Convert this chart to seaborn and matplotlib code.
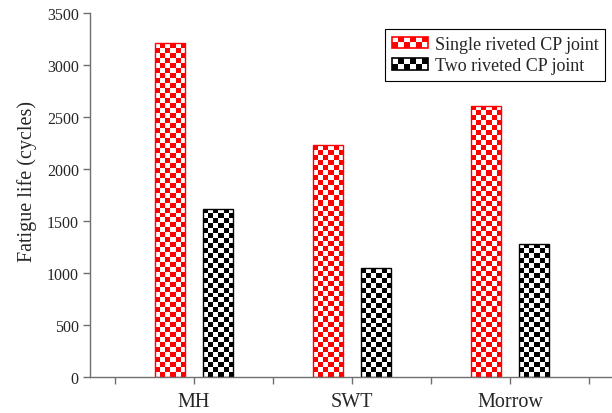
import numpy as np
import pandas as pd
import seaborn as sns
import matplotlib.pyplot as plt
from matplotlib.colors import ListedColormap
from matplotlib.patches import Rectangle
from matplotlib.legend_handler import HandlerBase

# Fatigue life predicted by each criterion
criteria = ["MH", "SWT", "Morrow"]
single_riveted = [3210, 2230, 2610]
two_riveted = [1620, 1045, 1280]
series_names = ["Single riveted CP joint", "Two riveted CP joint"]
series_colors = ["#ff0000", "#000000"]

df = pd.DataFrame({
    "criterion": criteria * 2,
    "life": single_riveted + two_riveted,
    "joint": [series_names[0]] * 3 + [series_names[1]] * 3,
})

sns.set_style("white")
plt.rcParams["font.family"] = ["Liberation Serif", "DejaVu Serif"]

fig = plt.figure(figsize=(6.12, 4.14), dpi=100)
ax = fig.add_axes([0.147, 0.087, 0.853, 0.879])

sns.barplot(data=df, x="criterion", y="life", hue="joint", order=criteria,
            hue_order=series_names, palette=series_colors, width=0.608,
            gap=0.375, ax=ax, legend=False, errorbar=None)

ax.set_xlim(-0.658, 2.646)
ax.set_ylim(0, 3500)


def checker_fill(ax, patch, color):
    """Cover a bar with a checkerboard of the given colour and white."""
    x0, y0 = patch.get_x(), patch.get_y()
    w, h = patch.get_width(), patch.get_height()
    ncol = 6
    # square cells in screen space
    px_w = ax.transData.transform((x0 + w, 0))[0] - ax.transData.transform((x0, 0))[0]
    cell_px = px_w / ncol
    px_h = ax.transData.transform((0, y0 + h))[1] - ax.transData.transform((0, y0))[1]
    nrow = max(1, int(round(px_h / cell_px)))
    grid = np.indices((nrow, ncol)).sum(axis=0) % 2
    im = ax.imshow(grid, cmap=ListedColormap(["white", color]), vmin=0, vmax=1,
                   extent=(x0, x0 + w, y0, y0 + h), origin="lower",
                   interpolation="nearest", aspect="auto", zorder=patch.get_zorder())
    im.set_clip_path(patch)
    patch.set_facecolor("none")
    patch.set_edgecolor(color)
    patch.set_linewidth(1.0)
    patch.set_zorder(patch.get_zorder() + 0.1)


fig.canvas.draw()
bars = [p for p in ax.patches if p.get_height() > 0]
for i, p in enumerate(bars):
    checker_fill(ax, p, series_colors[i // 3])
ax.set_xlim(-0.658, 2.646)
ax.set_ylim(0, 3500)

# axes styling
for side in ["top", "right"]:
    ax.spines[side].set_visible(False)
for side in ["left", "bottom"]:
    ax.spines[side].set_color("#707070")
    ax.spines[side].set_linewidth(1.0)

ax.set_yticks(np.arange(0, 3501, 500))
ax.set_xticks([0, 1, 2])
ax.set_xticklabels(criteria, fontsize=14.5)
ax.set_xticks([-0.5, 0.5, 1.5, 2.5], minor=True)
ax.tick_params(axis="both", which="both", direction="out", color="#707070",
               length=5, width=1.0, bottom=True, left=True)
ax.tick_params(axis="y", labelsize=11.5, pad=3)
ax.tick_params(axis="x", which="major", pad=6)
ax.set_xlabel("")
ax.set_ylabel("Fatigue life (cycles)", fontsize=14.5)
ax.yaxis.set_label_coords(-0.102, 0.54)


class CheckerHandler(HandlerBase):
    def __init__(self, color):
        super().__init__()
        self.color = color

    def create_artists(self, legend, orig_handle, xdescent, ydescent,
                       width, height, fontsize, trans):
        ncol, nrow = 6, 2
        cw, ch = width / ncol, height / nrow
        x0, y0 = -xdescent, -ydescent
        arts = [Rectangle((x0, y0), width, height, facecolor="white",
                          edgecolor="none", transform=trans)]
        for i in range(ncol):
            for j in range(nrow):
                if (i + j) % 2 == 0:
                    arts.append(Rectangle((x0 + i * cw, y0 + j * ch), cw, ch,
                                          facecolor=self.color, edgecolor="none",
                                          transform=trans))
        arts.append(Rectangle((x0, y0), width, height, facecolor="none",
                              edgecolor=self.color, linewidth=1.2, transform=trans))
        return arts


handles = [Rectangle((0, 0), 1, 1) for _ in series_names]
leg = ax.legend(handles, series_names,
                handler_map={handles[0]: CheckerHandler(series_colors[0]),
                             handles[1]: CheckerHandler(series_colors[1])},
                loc="upper left", bbox_to_anchor=(0.566, 0.955), fontsize=13,
                frameon=True, fancybox=False, framealpha=1, edgecolor="black",
                handlelength=2.0, handleheight=0.6, handletextpad=0.4,
                borderpad=0.35, labelspacing=0.25, borderaxespad=0)
leg.get_frame().set_linewidth(0.8)

fig.savefig("out.png", dpi=100)
